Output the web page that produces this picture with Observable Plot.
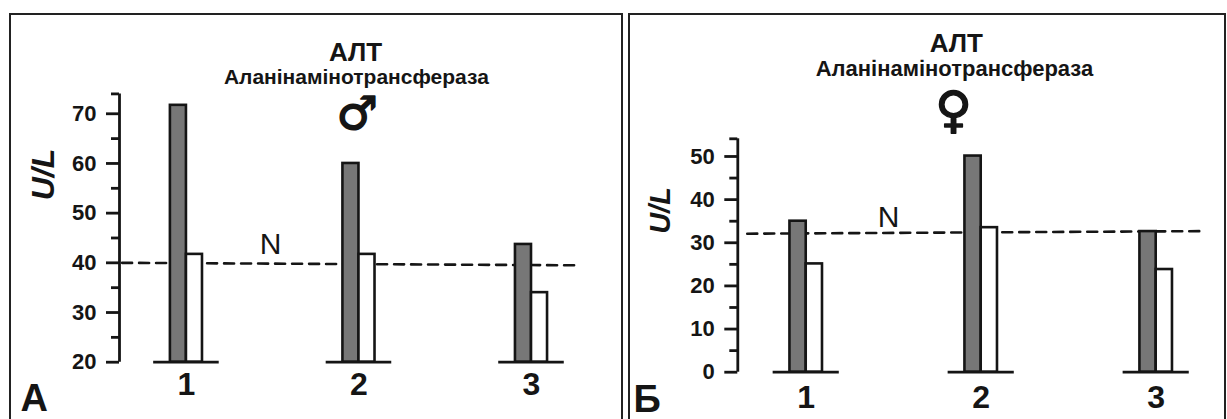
<!DOCTYPE html>
<html><head><meta charset="utf-8">
<script src="https://cdn.jsdelivr.net/npm/d3@7"></script>
<script src="https://cdn.jsdelivr.net/npm/@observablehq/plot@0.6"></script>
<style>
body{margin:0;background:#fff;}
#wrap{position:relative;width:1227px;height:419px;overflow:hidden;background:#fff;}
.panel{position:absolute;top:0;}
.box{position:absolute;border:2px solid #222;border-bottom:none;box-sizing:border-box;}
</style></head><body><div id="wrap"></div>
<script>
// ---- data ----
const groups = ["1", "2", "3"];
const groupPos = [1, 2, 3];
const maleHigh = [71.7, 60.0, 43.7];
const maleLow = [41.7, 41.7, 34.0];
const femaleHigh = [35.0, 50.1, 32.6];
const femaleLow = [25.1, 33.5, 23.8];
const normMale = [40, 39.5];
const normFemale = [32.1, 32.7];
const maleTicks = [20, 30, 40, 50, 60, 70];
const maleMinor = [25, 35, 45, 55, 65, 74];
const femaleTicks = [0, 10, 20, 30, 40, 50];
const femaleMinor = [5, 15, 25, 35, 45, 54.1];
const titleText = "АЛТ";
const subtitleText = "Аланінамінотрансфераза";
const unitText = "U/L";
const normLabel = "N";

const FONT = "Liberation Sans, Arial, Helvetica, sans-serif";
const INK = "#151515";

function panel(cfg) {
  const high = groupPos.map((g, i) => ({g, v: cfg.high[i]}));
  const low = groupPos.map((g, i) => ({g, v: cfg.low[i]}));
  const norm = cfg.normX.map((x, i) => ({x, y: cfg.norm[i]}));
  const y0 = cfg.yDomain[0];
  return Plot.plot({
    width: cfg.width, height: 419,
    marginLeft: cfg.ml, marginTop: cfg.mt, marginBottom: cfg.mb, marginRight: 0,
    x: {domain: cfg.xDomain, range: cfg.xRange, axis: null},
    y: {domain: cfg.yDomain, axis: null},
    style: {fontFamily: FONT, background: "transparent", overflow: "visible", color: INK},
    marks: [
      Plot.lineY(norm, {x: "x", y: "y", stroke: INK, strokeWidth: 2.6, strokeDasharray: "10,7"}),
      Plot.rect(high, {x1: d => d.g - cfg.w, x2: d => d.g, y1: y0, y2: "v", fill: "#777777", stroke: INK, strokeWidth: 2.6}),
      Plot.rect(low, {x1: d => d.g, x2: d => d.g + cfg.w, y1: y0, y2: "v", fill: "#ffffff", stroke: INK, strokeWidth: 2.6}),
      Plot.ruleY(groupPos, {y: y0, x1: g => g - cfg.half, x2: g => g + cfg.half, stroke: INK, strokeWidth: 2.8}),
      Plot.ruleX([cfg.xDomain[0]], {stroke: INK, strokeWidth: 2.8}),
      Plot.axisY({ticks: cfg.ticks, tickSize: 13, tickFormat: () => "", strokeWidth: 2.8, stroke: INK}),
      Plot.axisY({ticks: cfg.minor, tickSize: 8, tickFormat: () => "", strokeWidth: 2.8, stroke: INK}),
      Plot.text(cfg.ticks, {text: d => String(d), y: d => d, frameAnchor: "left", dx: -23, textAnchor: "end", lineAnchor: "middle", fontSize: 22, fontWeight: "bold", fill: INK}),
      Plot.text([titleText], {text: d => d, x: cfg.titleX, frameAnchor: "top", dy: cfg.titleDy, lineAnchor: "bottom", fontSize: 26, fontWeight: "bold", fill: INK}),
      Plot.text([subtitleText], {text: d => d, x: cfg.subX, frameAnchor: "top", dy: cfg.subDy, lineAnchor: "bottom", fontSize: cfg.subSize, fontWeight: "bold", fill: INK}),
      Plot.text([cfg.sym], {text: d => d, x: cfg.symX, frameAnchor: "top", dy: cfg.symDy, lineAnchor: "middle", fontSize: cfg.symSize, fontWeight: "bold", fontFamily: "DejaVu Sans", fill: INK, stroke: INK, strokeWidth: 1.5}),
      Plot.text([normLabel], {text: d => d, x: cfg.nX, y: cfg.nY, dy: cfg.nDy, lineAnchor: "bottom", fontSize: 30, fill: INK}),
      Plot.text(groups, {text: d => d, x: (d, i) => groupPos[i], frameAnchor: "bottom", dy: cfg.labDy, lineAnchor: "top", fontSize: 32, fontWeight: "bold", fill: INK}),
      Plot.text([cfg.letter], {text: d => d, frameAnchor: "bottom-left", dx: cfg.letDx, dy: cfg.letDy, textAnchor: "start", lineAnchor: "bottom", fontSize: 38, fontWeight: "bold", fill: INK}),
      Plot.text([unitText], {text: d => d, frameAnchor: "left", dx: cfg.uDx, dy: cfg.uDy, rotate: -90, textAnchor: "middle", lineAnchor: "middle", fontSize: cfg.uSize, fontWeight: "bold", fontStyle: "italic", fill: INK})
    ]
  });
}

const wrap = document.getElementById("wrap");

function addBox(l, t, w) {
  const b = document.createElement("div");
  b.className = "box";
  b.style.left = l + "px"; b.style.top = t + "px"; b.style.width = w + "px"; b.style.height = "430px";
  wrap.appendChild(b);
}
addBox(9, 13, 614);
addBox(628, 13, 598);

const A = panel({
  width: 620, ml: 119, mt: 93.4, mb: 57.3,
  yDomain: [20, 74], xDomain: [0.612, 3], xRange: [119, 531],
  high: maleHigh, low: maleLow, norm: normMale, normX: [0.627, 3.272],
  w: 0.093, half: 0.19, ticks: maleTicks, minor: maleMinor,
  titleX: 1.98, titleDy: -33, subX: 1.985, subDy: -9.5, subSize: 21,
  sym: "♂", symX: 1.99, symDy: 20, symSize: 46,
  nX: 1.487, nY: 40, nDy: -9, labDy: 10,
  letter: "А", letDx: -99, letDy: 48.5,
  uDx: -76, uDy: -53.5, uSize: 32
});
const dA = document.createElement("div"); dA.className = "panel"; dA.style.left = "0px"; dA.style.width = "620px";
dA.appendChild(A); wrap.appendChild(dA);

const B = panel({
  width: 607, ml: 117.3, mt: 138.3, mb: 47.3,
  yDomain: [0, 54.1], xDomain: [0.609, 3], xRange: [117.3, 535.7],
  high: femaleHigh, low: femaleLow, norm: normFemale, normX: [0.663, 3.269],
  w: 0.093, half: 0.189, ticks: femaleTicks, minor: femaleMinor,
  titleX: 1.858, titleDy: -86.5, subX: 1.847, subDy: -62.5, subSize: 22,
  sym: "♀", symX: 1.842, symDy: -28, symSize: 50,
  nX: 1.47, nY: 32.1, nDy: -7, labDy: 13.3,
  letter: "Б", letDx: -104.3, letDy: 39.5,
  uDx: -77.3, uDy: -45, uSize: 29
});
const dB = document.createElement("div"); dB.className = "panel"; dB.style.left = "620px"; dB.style.width = "607px";
dB.appendChild(B); wrap.appendChild(dB);
</script>
</body></html>
